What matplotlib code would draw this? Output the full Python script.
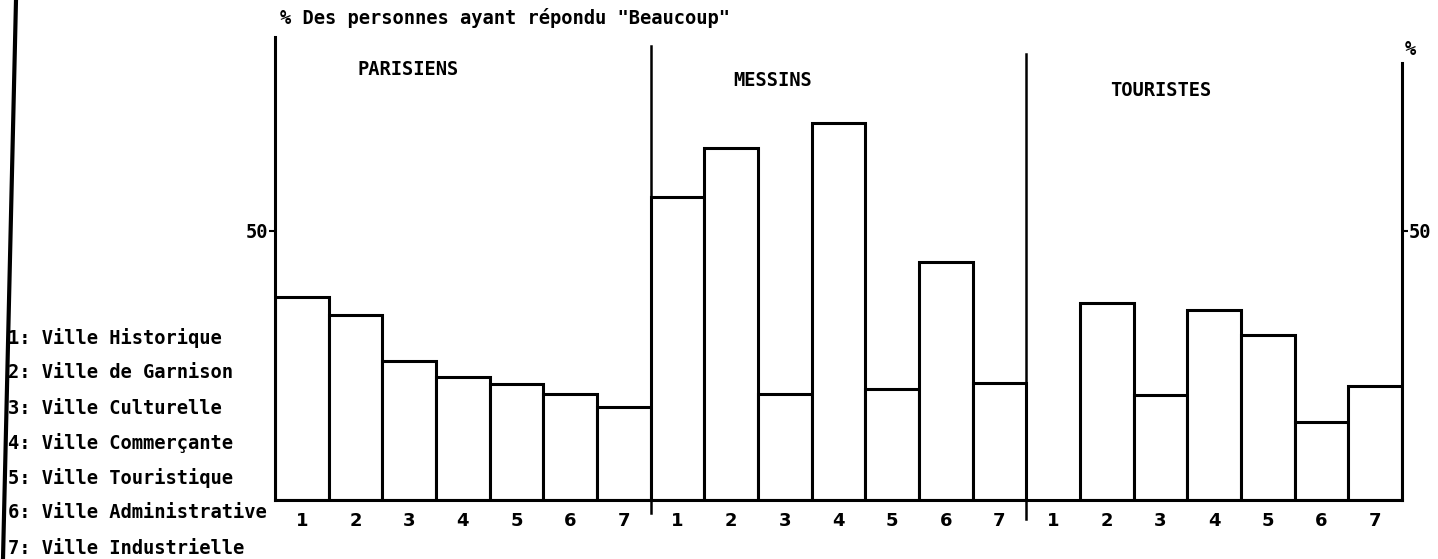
import numpy as np
import matplotlib.pyplot as plt
from matplotlib.lines import Line2D

# % of people who answered "Beaucoup", per group, for the 7 city images
groups = ["PARISIENS", "MESSINS", "TOURISTES"]
codes = ["1", "2", "3", "4", "5", "6", "7"]
parisiens = [37.7, 34.4, 25.9, 22.9, 21.6, 19.6, 17.3]
messins = [56.2, 65.4, 19.7, 70.1, 20.7, 44.3, 21.7]
touristes = [np.nan, 36.5, 19.5, 35.3, 30.7, 14.4, 21.2]  # no bar 1 in the original
legend_items = ["1: Ville Historique", "2: Ville de Garnison", "3: Ville Culturelle",
                "4: Ville Commerçante", "5: Ville Touristique",
                "6: Ville Administrative", "7: Ville Industrielle"]
ylabel = '% Des personnes ayant répondu "Beaucoup"'

mono = "DejaVu Sans Mono"
txt = dict(family=mono, fontsize=13.5, fontweight="bold")
W, H = 1438, 559
fig = plt.figure(figsize=(W / 100, H / 100), dpi=100)
fig.patch.set_facecolor("white")

# axes placed in pixel terms: baseline at y=500, bars from x=275 to x=1402
ax = fig.add_axes([275 / W, 59 / H, (1402 - 275) / W, (500 - 37) / H])

values = parisiens + messins + touristes
x = np.arange(len(values))
ax.bar(x, values, width=1.0, align="edge", facecolor="white",
       edgecolor="black", linewidth=2.2)

ax.set_xlim(0, 21)
ax.set_ylim(0, 86)

# separators between groups
ax.plot([7, 7], [-2.5, 84.3], color="black", lw=1.8, clip_on=False)
ax.plot([14, 14], [-3.5, 82.8], color="black", lw=1.8, clip_on=False)

ax.spines["top"].set_visible(False)
ax.spines["left"].set_linewidth(2.2)
ax.spines["right"].set_linewidth(2.2)
ax.spines["right"].set_bounds(0, 81.2)
ax.spines["bottom"].set_linewidth(2.2)

ax.set_xticks(x + 0.5)
ax.set_xticklabels(codes * 3, fontweight="bold", fontsize=13, family="DejaVu Sans")
ax.tick_params(axis="x", length=0, pad=9)

ax.set_yticks([50])
ax.set_yticklabels(["50"], **txt)
ax.tick_params(axis="y", direction="out", length=4, width=1.5, pad=1,
               right=True, labelright=True)

# group titles
ax.text(2.48, 79.9, groups[0], ha="center", va="center", **txt)
ax.text(9.27, 78.0, groups[1], ha="center", va="center", **txt)
ax.text(16.5, 76.0, groups[2], ha="center", va="center", **txt)
ax.text(21.15, 83.6, "%", ha="center", va="center", clip_on=False, **txt)

fig.text(280 / W, 1 - 18 / H, ylabel, ha="left", va="center", **txt)

for i, item in enumerate(legend_items):
    fig.text(8 / W, 1 - (338 + i * 35) / H, item, ha="left", va="center", **txt)

# scan border on the far left
fig.add_artist(Line2D([16 / W, 3 / W], [1, 0], color="black", lw=3))

fig.savefig("out.png", dpi=100, facecolor="white")
